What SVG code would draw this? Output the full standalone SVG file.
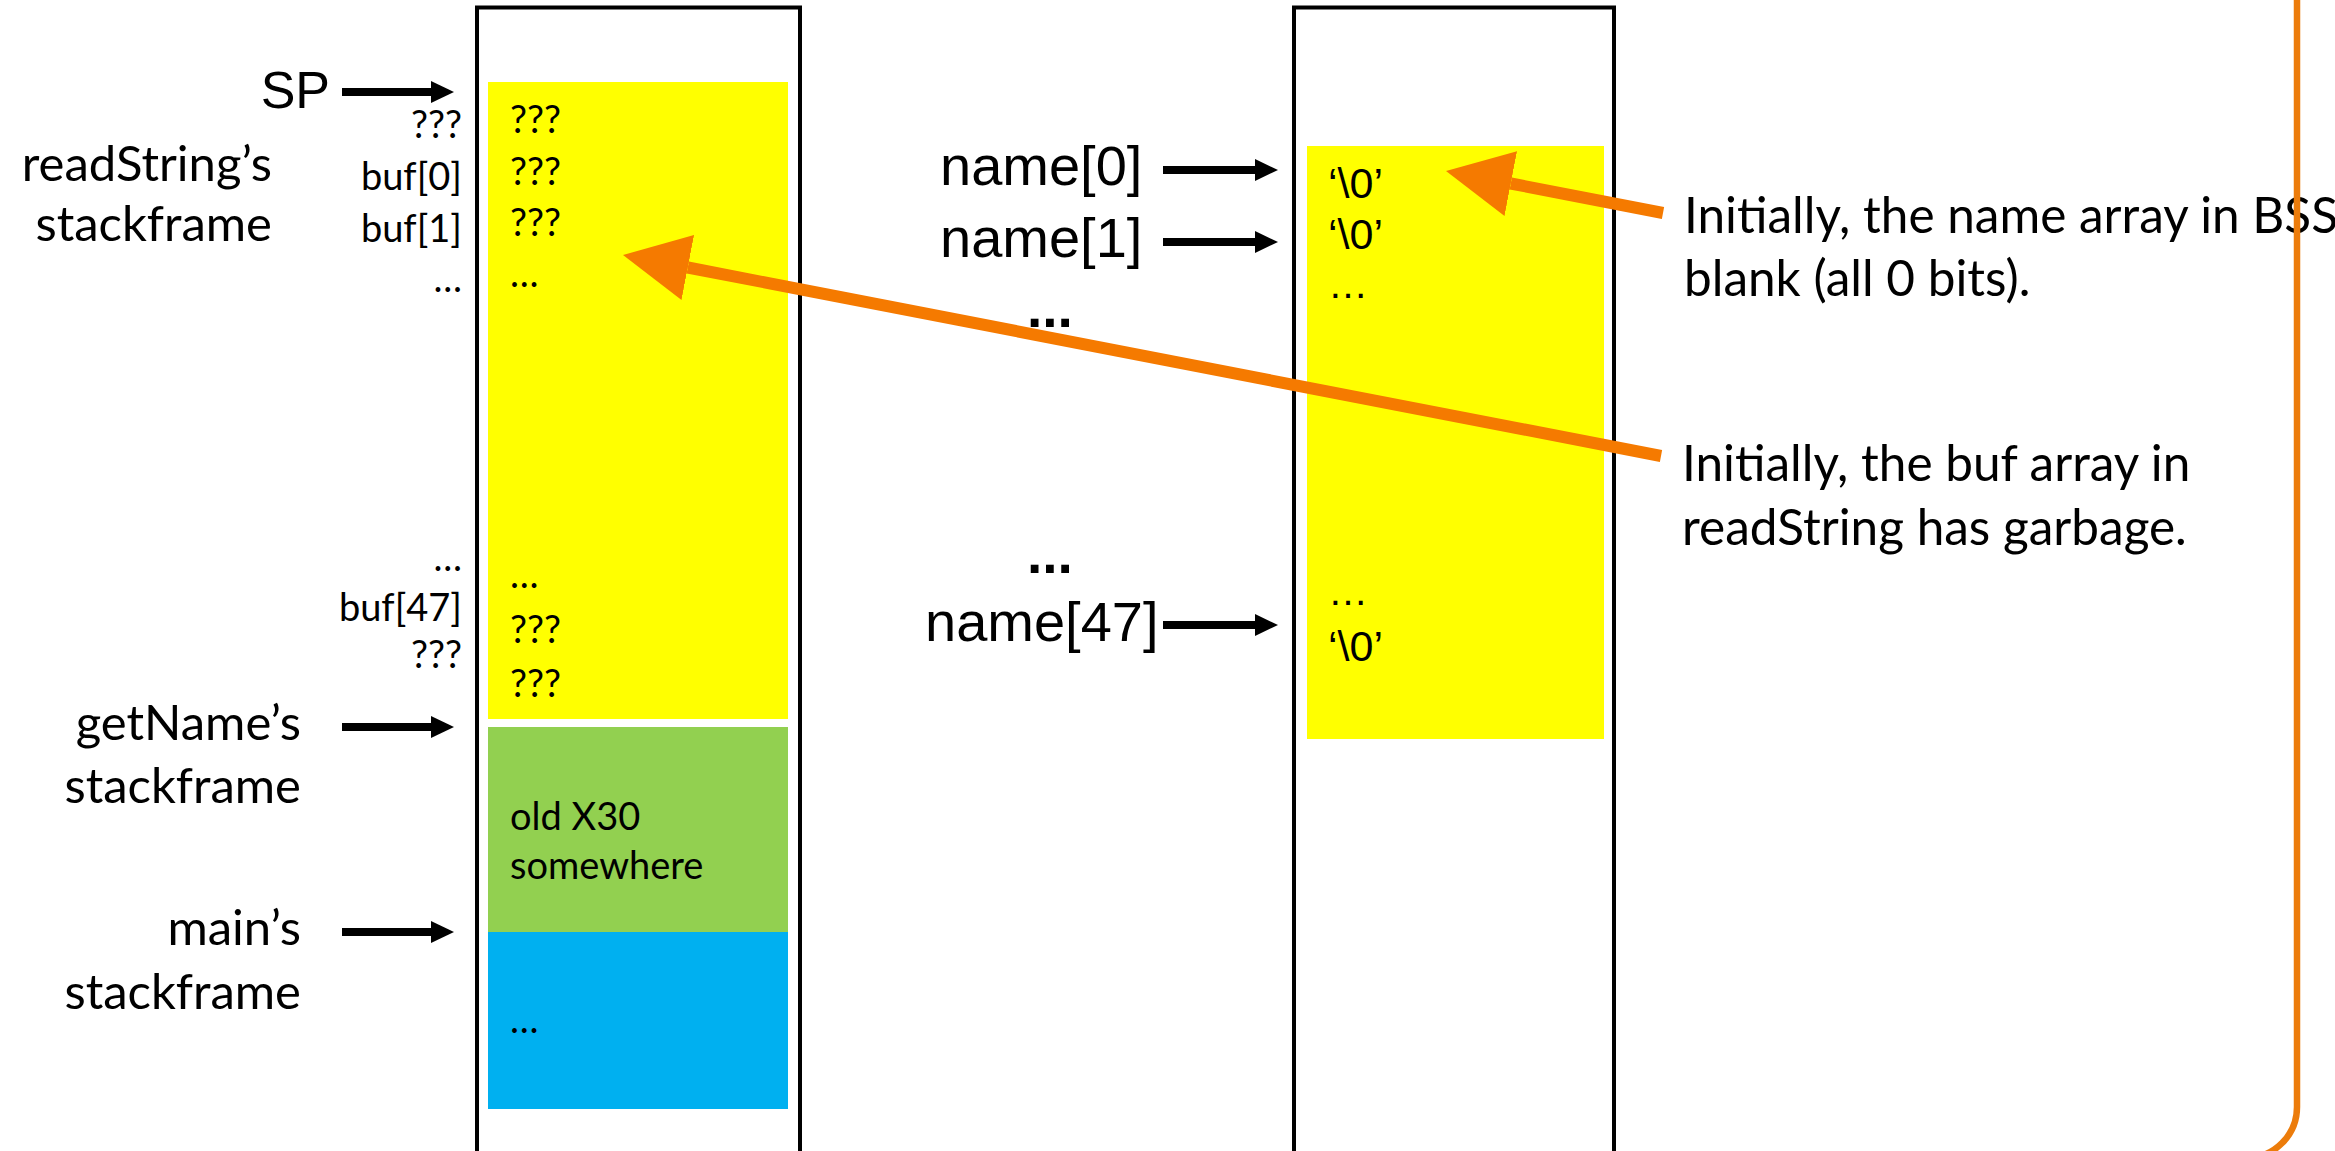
<svg xmlns="http://www.w3.org/2000/svg" width="2335" height="1151" viewBox="0 0 2335 1151">
  <style>
    .hum { font-family: Lato, "Open Sans", sans-serif; fill: #000; }
    .big { font-size: 49px; }
    .note { font-size: 49.5px; }
    .small { font-size: 38px; }
    .ari { font-family: "Liberation Sans", Arial, sans-serif; fill: #000; }
    .box { fill: none; stroke: #000; stroke-width: 4; }
    .ptr { stroke: #000; stroke-width: 8; fill: none; }
    .callout { stroke: #F57A00; stroke-width: 12; fill: none; }
    .end { text-anchor: end; }
  </style>
  <defs>
    <marker id="head" viewBox="0 0 23 22" refX="0" refY="11" markerWidth="23" markerHeight="22" markerUnits="userSpaceOnUse" orient="auto">
      <path d="M0,0 L23,11 L0,22 z" fill="#000"/>
    </marker>
    <marker id="bighead" viewBox="0 0 66 66" refX="0" refY="33" markerWidth="66" markerHeight="66" markerUnits="userSpaceOnUse" orient="auto">
      <path d="M0,0 L66,33 L0,66 z" fill="#F57A00"/>
    </marker>
  </defs>

  <rect width="2335" height="1151" fill="#fff"/>

  <!-- stack memory column -->
  <g id="stack">
    <rect x="488" y="82" width="300" height="637" fill="#FFFF00"/>
    <rect x="488" y="727" width="300" height="205" fill="#92D050"/>
    <rect x="488" y="932" width="300" height="177" fill="#00B0F0"/>
    <rect class="box" x="477" y="7.5" width="323" height="1146"/>
    <g class="hum small">
      <text x="510" y="133">???</text>
      <text x="510" y="185">???</text>
      <text x="510" y="236">???</text>
      <text x="510" y="287">…</text>
      <text x="510" y="588">…</text>
      <text x="510" y="643">???</text>
      <text x="510" y="697">???</text>
      <text x="510" y="830">old X30</text>
      <text x="510" y="879">somewhere</text>
      <text x="510" y="1033">…</text>
    </g>
  </g>

  <!-- labels beside the stack -->
  <g id="stack-labels">
    <text class="ari end" x="330" y="108" font-size="52">SP</text>
    <g class="hum big end">
      <text x="272" y="181">readString’s</text>
      <text x="272" y="241">stackframe</text>
      <text x="301" y="740">getName’s</text>
      <text x="301" y="803">stackframe</text>
      <text x="301" y="945">main’s</text>
      <text x="301" y="1009">stackframe</text>
    </g>
    <g class="hum small end">
      <text x="462" y="138">???</text>
      <text x="462" y="190">buf[0]</text>
      <text x="462" y="242">buf[1]</text>
      <text x="462" y="292">…</text>
      <text x="462" y="571">…</text>
      <text x="462" y="621">buf[47]</text>
      <text x="462" y="668">???</text>
    </g>
  </g>

  <!-- BSS memory column -->
  <g id="bss">
    <rect x="1307" y="146" width="297" height="593" fill="#FFFF00"/>
    <rect class="box" x="1294" y="7.5" width="320" height="1146"/>
    <g class="ari" font-size="43">
      <text x="1328" y="198">‘\0’</text>
      <text x="1328" y="249">‘\0’</text>
      <text x="1328" y="298" font-size="40">…</text>
      <text x="1328" y="605" font-size="40">…</text>
      <text x="1328" y="661">‘\0’</text>
    </g>
  </g>

  <!-- labels beside the BSS column -->
  <g id="bss-labels" class="ari" font-size="56">
    <text x="940" y="185">name[0]</text>
    <text x="940" y="257">name[1]</text>
    <text x="1027" y="327" font-weight="bold" font-size="55">...</text>
    <text x="1027" y="573" font-weight="bold" font-size="55">...</text>
    <text x="925" y="641">name[47]</text>
  </g>

  <!-- explanatory notes -->
  <g id="notes" class="hum note">
    <text x="1684" y="233">Initially, the name array in BSS</text>
    <text x="1684" y="296">blank (all 0 bits).</text>
    <text x="1682" y="481">Initially, the buf array in</text>
    <text x="1682" y="545">readString has garbage.</text>
  </g>

  <!-- pointer and callout arrows -->
  <g id="connectors">
    <line class="ptr" x1="342" y1="92" x2="431" y2="92" marker-end="url(#head)"/>
    <line class="ptr" x1="342" y1="727" x2="431" y2="727" marker-end="url(#head)"/>
    <line class="ptr" x1="342" y1="932" x2="431" y2="932" marker-end="url(#head)"/>
    <line class="ptr" x1="1163" y1="170" x2="1255" y2="170" marker-end="url(#head)"/>
    <line class="ptr" x1="1163" y1="242" x2="1255" y2="242" marker-end="url(#head)"/>
    <line class="ptr" x1="1163" y1="625" x2="1255" y2="625" marker-end="url(#head)"/>
    <line class="callout" x1="1663" y1="213" x2="1510.8" y2="183.5" marker-end="url(#bighead)"/>
    <line class="callout" x1="1661" y1="456" x2="687.8" y2="267.5" marker-end="url(#bighead)"/>
  </g>

  <!-- orange frame edge -->
  <path id="frame" d="M2297,-10 V1107 A51,51 0 0 1 2246,1158" fill="none" stroke="#EC7C0B" stroke-width="6.5"/>
</svg>
